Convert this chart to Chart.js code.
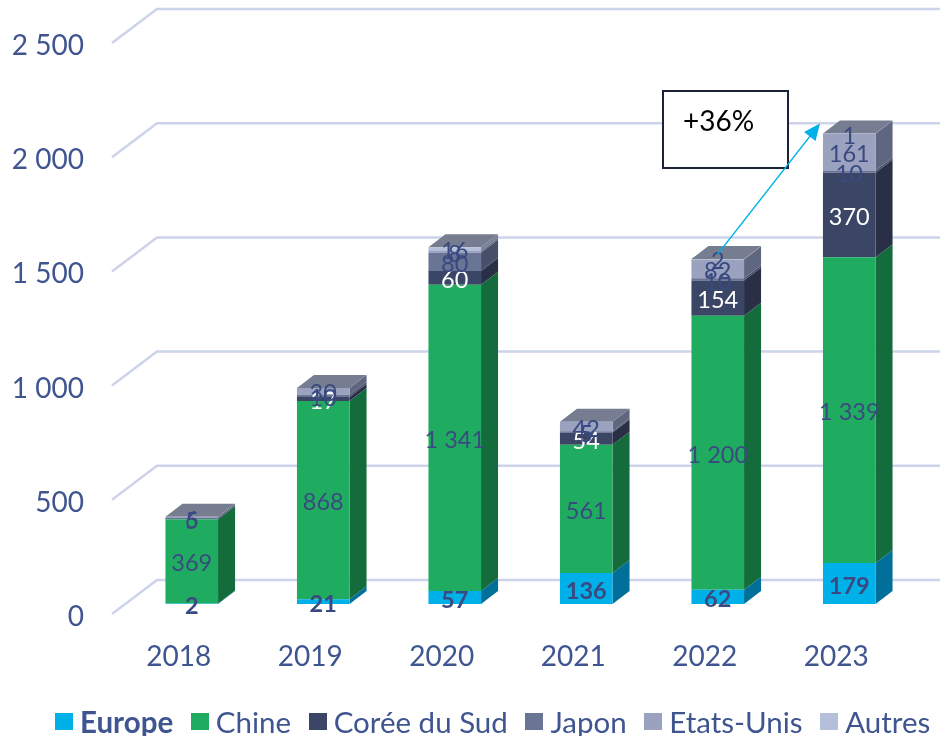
<!DOCTYPE html>
<html lang="fr">
<head>
<meta charset="utf-8">
<title>Production par région</title>
<script src="https://cdn.jsdelivr.net/npm/chart.js@4"></script>
<style>
  html, body { margin: 0; padding: 0; background: #fff; }
  #wrap { position: relative; width: 940px; height: 736px; overflow: hidden; }
  #legende { position: absolute; left: 55px; top: 704px; display: flex; align-items: center;
             font: 29.5px Lato, sans-serif; color: #3f5590; white-space: nowrap; }
  #legende span.item { display: flex; align-items: center; margin-right: 17.6px; }
  #legende i { display: block; width: 18px; height: 17px; margin-right: 7px; }
</style>
</head>
<body>
<div id="wrap">
  <canvas id="graphique" width="940" height="736"></canvas>
  <div id="legende"></div>
</div>
<script>
const annees = ['2018', '2019', '2020', '2021', '2022', '2023'];
const ticksY = ['0', '500', '1 000', '1 500', '2 000', '2 500'];

const europe    = [2, 21, 57, 136, 62, 179];
const chine     = [369, 868, 1341, 561, 1200, 1339];
const coree     = [0, 17, 60, 54, 154, 370];
const japon     = [5, 10, 80, 5, 10, 10];
const etatsUnis = [6, 30, 8, 42, 82, 161];
const autres    = [0, 0, 16, 0, 2, 1];

const noms      = ['Europe', 'Chine', 'Corée du Sud', 'Japon', 'Etats-Unis', 'Autres'];
const couleurs  = ['#00b0e8', '#20ac60', '#3b4565', '#6a7596', '#9aa2bf', '#b6bfd9'];
const cotes     = ['#00709a', '#146b3c', '#282f46', '#484f68', '#5f667f', '#787f98'];
const valeurs   = [europe, chine, coree, japon, etatsUnis, autres];

const texteBleu = '#3f5590';
const prof = { x: 17, y: 13 };   // profondeur des barres

function nombre(v) {
    return String(v).replace(/\B(?=(\d{3})+$)/g, ' ');
}

// --- GRILLE ET FACES 3D ---
const decor3d = {
    id: 'decor3d',
    beforeDatasetsDraw(chart) {
        const ctx = chart.ctx, y = chart.scales.y;
        ctx.save();
        ctx.strokeStyle = '#cdd3ea';
        ctx.lineWidth = 2.5;
        y.ticks.forEach(t => {
            const py = y.getPixelForValue(t.value);
            ctx.beginPath();
            ctx.moveTo(112, py + 10);
            ctx.lineTo(157, py - 24);
            ctx.lineTo(940, py - 24);
            ctx.stroke();
        });

        annees.forEach((a, i) => {
            let sommet = null;
            valeurs.forEach((serie, s) => {
                if (!serie[i]) return;
                const b = chart.getDatasetMeta(s).data[i];
                const droite = b.x + b.width / 2;
                ctx.fillStyle = cotes[s];
                ctx.beginPath();
                ctx.moveTo(droite, b.base);
                ctx.lineTo(droite + prof.x, b.base - prof.y);
                ctx.lineTo(droite + prof.x, b.y - prof.y);
                ctx.lineTo(droite, b.y);
                ctx.closePath();
                ctx.fill();
                sommet = b;
            });
            const gauche = sommet.x - sommet.width / 2;
            ctx.fillStyle = '#767d91';
            ctx.beginPath();
            ctx.moveTo(gauche, sommet.y);
            ctx.lineTo(gauche + prof.x, sommet.y - prof.y);
            ctx.lineTo(gauche + sommet.width + prof.x, sommet.y - prof.y);
            ctx.lineTo(gauche + sommet.width, sommet.y);
            ctx.closePath();
            ctx.fill();
        });
        ctx.restore();
    },
    afterDatasetsDraw(chart) {
        const ctx = chart.ctx;
        ctx.save();
        ctx.textAlign = 'center';
        ctx.textBaseline = 'middle';
        valeurs.forEach((serie, s) => {
            ctx.font = (s === 0 ? 'bold ' : '') + '23.5px Lato, sans-serif';
            ctx.fillStyle = s === 2 ? '#ffffff' : '#3a4a80';
            serie.forEach((v, i) => {
                if (!v) return;
                const b = chart.getDatasetMeta(s).data[i];
                ctx.fillText(nombre(v), b.x, (b.y + b.base) / 2 + 2.5);
            });
        });

        // encadré +36%
        ctx.fillStyle = '#ffffff';
        ctx.strokeStyle = '#1b2338';
        ctx.lineWidth = 2;
        ctx.fillRect(663, 91, 125, 77);
        ctx.strokeRect(663, 91, 125, 77);
        ctx.fillStyle = '#000000';
        ctx.textAlign = 'left';
        ctx.textBaseline = 'alphabetic';
        ctx.font = '28px Lato, sans-serif';
        ctx.fillText('+36%', 683, 131);

        // flèche 2022 -> 2023
        const debut = chart.getDatasetMeta(5).data[4];
        const fin = chart.getDatasetMeta(5).data[5];
        const x1 = debut.x, y1 = debut.y - 5;
        const x2 = fin.x - fin.width / 2 - 3, y2 = fin.y - 10;
        const ang = Math.atan2(y2 - y1, x2 - x1);
        ctx.strokeStyle = '#00b0e8';
        ctx.fillStyle = '#00b0e8';
        ctx.lineWidth = 1.5;
        ctx.beginPath();
        ctx.moveTo(x1, y1);
        ctx.lineTo(x2 - 10 * Math.cos(ang), y2 - 10 * Math.sin(ang));
        ctx.stroke();
        ctx.beginPath();
        ctx.moveTo(x2, y2);
        ctx.lineTo(x2 - 18 * Math.cos(ang - 0.42), y2 - 18 * Math.sin(ang - 0.42));
        ctx.lineTo(x2 - 18 * Math.cos(ang + 0.42), y2 - 18 * Math.sin(ang + 0.42));
        ctx.closePath();
        ctx.fill();
        ctx.restore();
    }
};

new Chart(document.getElementById('graphique'), {
    type: 'bar',
    data: {
        labels: annees,
        datasets: noms.map((nom, s) => ({
            label: nom,
            data: valeurs[s],
            backgroundColor: couleurs[s],
            borderWidth: 0,
            categoryPercentage: 1,
            barPercentage: 0.4
        }))
    },
    options: {
        responsive: false,
        animation: false,
        layout: { padding: { top: 33, right: 25, bottom: 52, left: 0 } },
        plugins: { legend: { display: false }, tooltip: { enabled: false } },
        scales: {
            x: {
                stacked: true,
                grid: { display: false, drawTicks: false },
                border: { display: false },
                afterFit: s => { s.height = 80; s.paddingLeft = 0; s.paddingRight = 0; },
                ticks: {
                    color: texteBleu, font: { family: 'Lato', size: 28 },
                    padding: 36, labelOffset: -13, maxRotation: 0
                }
            },
            y: {
                stacked: true,
                min: 0, max: 2500,
                grid: { display: false, drawTicks: false },
                border: { display: false },
                afterFit: s => { s.width = 126; s.paddingTop = 0; s.paddingBottom = 0; },
                ticks: {
                    stepSize: 500,
                    color: texteBleu, font: { family: 'Lato', size: 28 },
                    padding: 42, labelOffset: 13,
                    callback: (v, i) => ticksY[i]
                }
            }
        }
    },
    plugins: [decor3d]
});

// --- LÉGENDE ---
document.getElementById('legende').innerHTML = noms.map((nom, s) =>
    `<span class="item"><i style="background:${couleurs[s]}"></i>` +
    `<span${s === 0 ? ' style="font-weight:bold"' : ''}>${nom}</span></span>`
).join('');
</script>
</body>
</html>
